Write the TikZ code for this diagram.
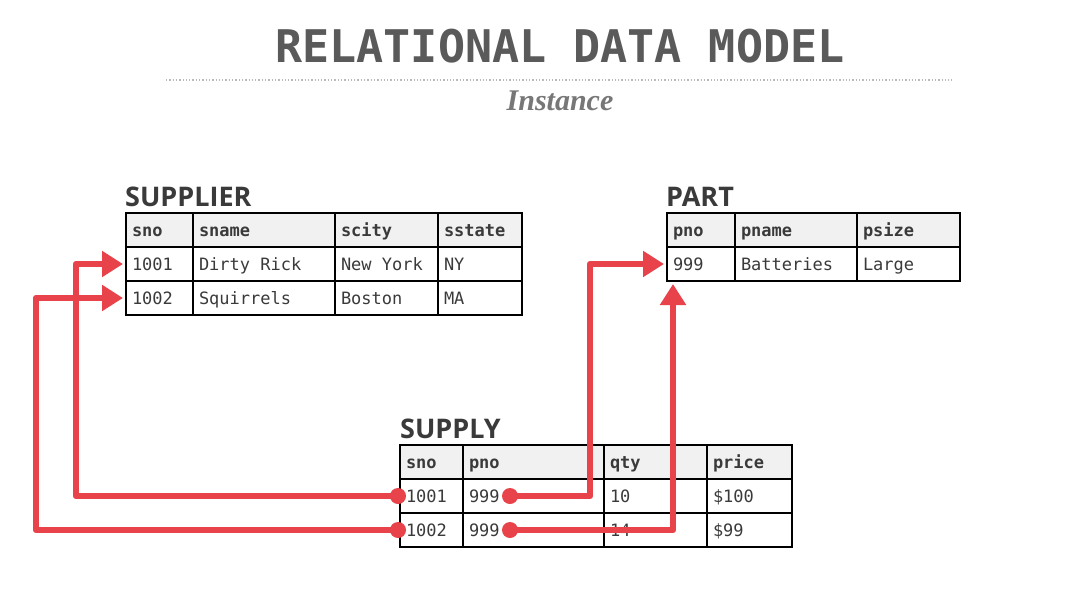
\documentclass[tikz,border=0pt]{standalone}
\usepackage{fontspec}
\setmainfont{Liberation Serif}
\setsansfont{Open Sans}
\setmonofont{DejaVu Sans Mono}
\usetikzlibrary{arrows.meta}
\definecolor{fk}{HTML}{E8434A}
\definecolor{bgg}{HTML}{F1F1F1}
\definecolor{hdrbg}{HTML}{F1F1F1}
\definecolor{txt}{HTML}{3A3A3A}
\definecolor{ttl}{HTML}{5A5A5A}
\definecolor{sub}{HTML}{777777}
\pgfdeclareradialshading{vig}{\pgfpoint{0bp}{0bp}}{color(0bp)=(white); color(36bp)=(white); color(50bp)=(bgg); color(72bp)=(bgg)}
\newcommand\tcell[6]{\node[tcell,#6] (#1) at (#2,#3) {\makebox[\dimexpr#4pt-12pt\relax][l]{#5}};}
\begin{document}
\begin{tikzpicture}[x=1pt,y=-1pt,
  tcell/.style={draw=black, line width=1.5pt, anchor=north west, outer sep=0pt,
    minimum height=34pt, inner xsep=6pt, inner ysep=0pt, text height=14pt, text depth=1pt,
    font=\ttfamily\fontsize{17}{20}\selectfont, text=txt},
  hdr/.style={fill=hdrbg, font=\ttfamily\bfseries\fontsize{17}{20}\selectfont},
  tname/.style={anchor=base west, inner sep=0pt, text=txt, font=\sffamily\bfseries\fontsize{27}{30}\selectfont},
  conn/.style={draw=fk, line width=6.5pt, line join=round},
  tipend/.style={-{Triangle[length=21pt,width=25pt]}},
  dot/.style={fill=fk}]
\useasboundingbox (0,0) rectangle (1075,594);
\shade[shading=vig] (0,0) rectangle (1075,594);
% title
\node[anchor=base, inner sep=0pt, text=ttl, font=\ttfamily\bfseries\fontsize{45}{50}\selectfont] (title) at (560,63) {RELATIONAL DATA MODEL};
\draw[gray!55, line width=1.3pt, dotted] (166,80) -- (952,80);
\node[anchor=base, inner sep=0pt, text=sub, font=\rmfamily\bfseries\itshape\fontsize{30}{34}\selectfont] (subtitle) at (560,110) {Instance};
% SUPPLIER
\node[tname] (supplierT) at (125,206) {SUPPLIER};
\tcell{s0a}{126}{213}{67}{sno}{hdr}
\tcell{s0b}{193}{213}{142}{sname}{hdr}
\tcell{s0c}{335}{213}{103}{scity}{hdr}
\tcell{s0d}{438}{213}{84}{sstate}{hdr}
\tcell{s1a}{126}{247}{67}{1001}{}
\tcell{s1b}{193}{247}{142}{Dirty Rick}{}
\tcell{s1c}{335}{247}{103}{New York}{}
\tcell{s1d}{438}{247}{84}{NY}{}
\tcell{s2a}{126}{281}{67}{1002}{}
\tcell{s2b}{193}{281}{142}{Squirrels}{}
\tcell{s2c}{335}{281}{103}{Boston}{}
\tcell{s2d}{438}{281}{84}{MA}{}
% PART
\node[tname] (partT) at (666,206) {PART};
\tcell{p0a}{667}{213}{68}{pno}{hdr}
\tcell{p0b}{735}{213}{122}{pname}{hdr}
\tcell{p0c}{857}{213}{103}{psize}{hdr}
\tcell{p1a}{667}{247}{68}{999}{}
\tcell{p1b}{735}{247}{122}{Batteries}{}
\tcell{p1c}{857}{247}{103}{Large}{}
% SUPPLY
\node[tname] (supplyT) at (400,438) {SUPPLY};
\tcell{y0a}{400}{445}{63}{sno}{hdr}
\tcell{y0b}{463}{445}{141}{pno}{hdr}
\tcell{y0c}{604}{445}{103}{qty}{hdr}
\tcell{y0d}{707}{445}{85}{price}{hdr}
\tcell{y1a}{400}{479}{63}{1001}{}
\tcell{y1b}{463}{479}{141}{999}{}
\tcell{y1c}{604}{479}{103}{10}{}
\tcell{y1d}{707}{479}{85}{\$100}{}
\tcell{y2a}{400}{513}{63}{1002}{}
\tcell{y2b}{463}{513}{141}{999}{}
\tcell{y2c}{604}{513}{103}{14}{}
\tcell{y2d}{707}{513}{85}{\$99}{}
% connectors
\coordinate (d1) at ([xshift=-2pt]y1a.west);
\coordinate (d2) at ([xshift=-2pt]y2a.west);
\coordinate (d3) at ([xshift=47pt]y1b.west);
\coordinate (d4) at ([xshift=47pt]y2b.west);
\draw[conn, tipend, shorten >=3pt] (d1) -| ([xshift=-50pt]s1a.west) -- (s1a.west);
\draw[conn, tipend, shorten >=3pt] (d2) -| ([xshift=-90pt]s2a.west) -- (s2a.west);
\draw[conn, tipend, shorten >=3pt] (d3) -| ([xshift=-77pt]p1a.west) -- (p1a.west);
\draw[conn, tipend, shorten >=3pt] (d4) -| ([xshift=6pt]p1a.south west);
\foreach \d in {d1,d2,d3,d4} \fill[dot] (\d) circle (8pt);
\end{tikzpicture}
\end{document}
